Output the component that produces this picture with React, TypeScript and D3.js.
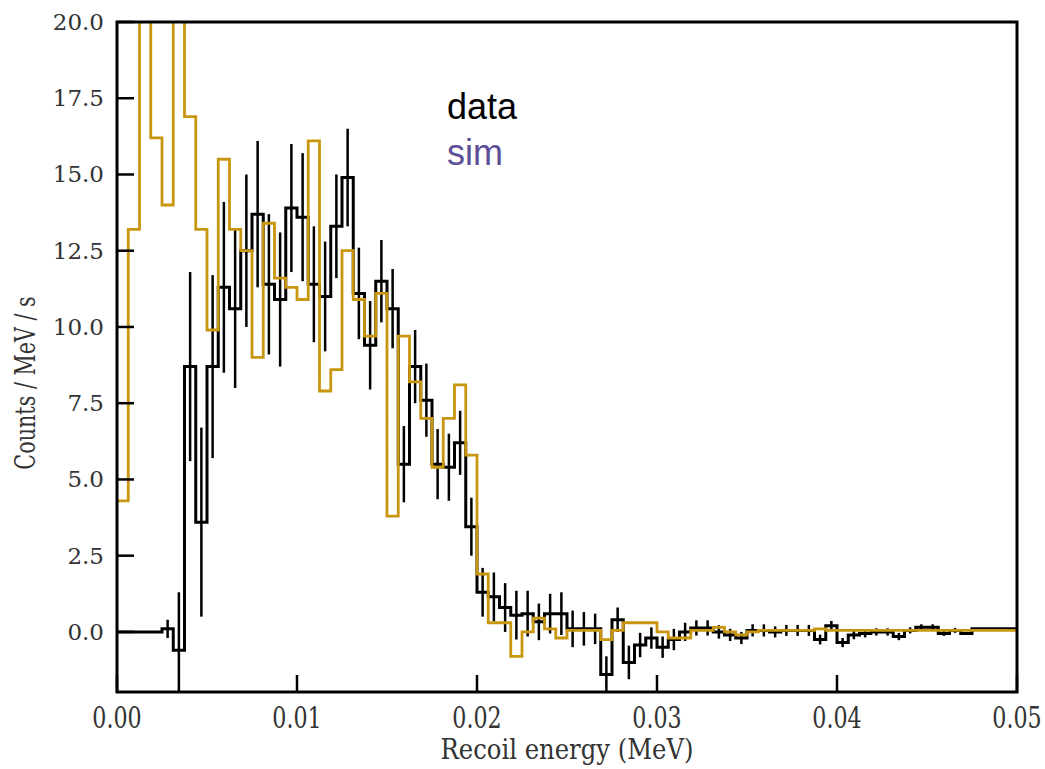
import React from "react";
import * as d3 from "d3";

// 80 bins of 0.000625 MeV from 0 to 0.05
const binWidth = 0.000625;

const dataValues = [
  0, 0, 0, 0, 0.1, -0.6, 8.7, 3.6, 8.7, 11.3,
  10.6, 12.5, 13.7, 11.4, 10.9, 13.9, 13.6, 11.4, 11.0, 13.3,
  14.9, 11.1, 9.4, 11.5, 10.6, 5.5, 8.7, 7.6, 5.5, 5.4,
  6.2, 3.45, 1.3, 1.15, 0.8, 0.55, 0.6, 0.33, 0.6, 0.6,
  0.1, 0.1, 0.1, -1.4, 0.4, -1.0, -0.43, -0.2, -0.5, -0.25,
  0.0, 0.13, 0.13, 0.0, -0.1, -0.2, 0.05, 0.05, 0.0, 0.05,
  0.05, 0.05, -0.25, 0.2, -0.35, -0.1, -0.05, 0.0, 0.0, -0.15,
  0.05, 0.15, 0.15, -0.05, 0.05, -0.05, 0.1, 0.1, 0.1, 0.1,
];

const dataErrors = [
  0, 0, 0, 0, 0.3, 1.9, 3.1, 3.1, 3.0, 2.8,
  2.6, 2.5, 2.4, 2.3, 2.2, 2.1, 2.1, 1.9, 1.8, 1.7,
  1.6, 1.5, 1.45, 1.35, 1.3, 1.25, 1.2, 1.2, 1.15, 1.1,
  1.05, 0.95, 0.8, 0.8, 0.8, 0.8, 0.75, 0.6, 0.65, 0.7,
  0.6, 0.55, 0.5, 0.6, 0.4, 0.55, 0.4, 0.35, 0.35, 0.35,
  0.3, 0.25, 0.25, 0.22, 0.2, 0.2, 0.2, 0.2, 0.18, 0.18,
  0.18, 0.18, 0.16, 0.16, 0.15, 0.14, 0.13, 0.12, 0.12, 0.12,
  0.1, 0.1, 0.1, 0.08, 0.08, 0.05, 0.03, 0.02, 0, 0,
];

const simValues = [
  4.3, 13.2, 22, 16.2, 14.0, 22, 16.9, 13.2, 9.9, 15.5,
  13.2, 12.5, 9.0, 13.4, 11.6, 11.3, 10.9, 16.1, 7.9, 8.6,
  12.5, 10.9, 9.7, 11.1, 3.8, 9.7, 8.2, 7.0, 5.4, 7.0,
  8.1, 5.8, 1.9, 0.3, 0.3, -0.8, 0.0, 0.45, 0.1, -0.2,
  0.05, 0.05, 0.05, -0.25, 0.05, 0.3, 0.3, 0.3, 0.0, -0.2,
  -0.2, 0.05, 0.05, 0.15, 0.0, -0.1, 0.0, 0.05, 0.05, 0.05,
  0.05, 0.05, 0.1, 0.05, 0.05, 0.05, 0.05, 0.05, 0.05, 0.05,
  0.05, 0.05, 0.05, 0.05, 0.05, 0.05, 0.05, 0.05, 0.05, 0.05,
];

const xTicks = [0, 0.01, 0.02, 0.03, 0.04, 0.05];
const yTicks = [0, 2.5, 5, 7.5, 10, 12.5, 15, 17.5, 20];

const W = 1045;
const H = 769;
const plot = { left: 117, right: 1017, top: 22, bottom: 692 };
const simColor = "#c9960f";
const serif = "'DejaVu Serif', 'Liberation Serif', serif";
const labelColor = "#333";

export default function App() {
  const x = d3.scaleLinear().domain([0, 0.05]).range([plot.left, plot.right]);
  const y = d3.scaleLinear().domain([-1.97, 20]).range([plot.bottom, plot.top]);

  const stepPoints = (vals: number[]) => {
    const pts: [number, number][] = vals.map((v, i) => [i * binWidth, v]);
    pts.push([vals.length * binWidth, vals[vals.length - 1]]);
    return pts;
  };
  const step = d3
    .line<[number, number]>()
    .x((d) => x(d[0]))
    .y((d) => y(d[1]))
    .curve(d3.curveStepAfter);

  const fx = d3.format(".2f");
  const fy = d3.format(".1f");

  return (
    <svg
      width={W}
      height={H}
      style={{ position: "absolute", left: 0, top: 0, background: "#fff" }}
    >
      <defs>
        <clipPath id="plotclip">
          <rect
            x={plot.left}
            y={plot.top}
            width={plot.right - plot.left}
            height={plot.bottom - plot.top}
          />
        </clipPath>
      </defs>

      <g clipPath="url(#plotclip)">
        {dataValues.map((v, i) =>
          dataErrors[i] > 0 ? (
            <line
              key={i}
              x1={x((i + 0.5) * binWidth)}
              x2={x((i + 0.5) * binWidth)}
              y1={y(v - dataErrors[i])}
              y2={y(v + dataErrors[i])}
              stroke="#000"
              strokeWidth={2.5}
            />
          ) : null
        )}
        <path
          d={step(stepPoints(dataValues)) || ""}
          fill="none"
          stroke="#000"
          strokeWidth={3}
        />
        <path
          d={step(stepPoints(simValues)) || ""}
          fill="none"
          stroke={simColor}
          strokeWidth={2.8}
        />
      </g>

      {/* ticks (inward) */}
      {yTicks.map((t) => (
        <line
          key={"yt" + t}
          x1={plot.left}
          x2={plot.left + 17}
          y1={y(t)}
          y2={y(t)}
          stroke="#000"
          strokeWidth={2.5}
        />
      ))}
      {xTicks.map((t) => (
        <line
          key={"xt" + t}
          x1={x(t)}
          x2={x(t)}
          y1={plot.bottom}
          y2={plot.bottom - 17}
          stroke="#000"
          strokeWidth={2.5}
        />
      ))}

      <rect
        x={plot.left}
        y={plot.top}
        width={plot.right - plot.left}
        height={plot.bottom - plot.top}
        fill="none"
        stroke="#000"
        strokeWidth={3}
      />

      {/* tick labels */}
      {yTicks.map((t) => (
        <text
          key={"yl" + t}
          x={104}
          y={y(t) + 8}
          textAnchor="end"
          fontFamily={serif}
          fontSize={23}
          fill={labelColor}
        >
          {fy(t)}
        </text>
      ))}
      {xTicks.map((t) => (
        <text
          key={"xl" + t}
          transform={`translate(${x(t)},728) scale(0.74,1)`}
          textAnchor="middle"
          fontFamily={serif}
          fontSize={30}
          fill={labelColor}
        >
          {fx(t)}
        </text>
      ))}

      {/* axis labels */}
      <text
        transform={`translate(567,759) scale(0.9,1)`}
        textAnchor="middle"
        fontFamily={serif}
        fontSize={27}
        fill={labelColor}
      >
        Recoil energy (MeV)
      </text>
      <text
        transform={`translate(35,383) rotate(-90) scale(0.74,1)`}
        textAnchor="middle"
        fontFamily={serif}
        fontSize={28}
        fill={labelColor}
      >
        Counts / MeV / s
      </text>

      {/* legend */}
      <text x={447} y={119} fontFamily="'Liberation Sans', Arial, sans-serif" fontSize={36} fill="#000">
        data
      </text>
      <text x={447} y={165} fontFamily="'Liberation Sans', Arial, sans-serif" fontSize={36} fill="#5b4f96">
        sim
      </text>
    </svg>
  );
}
